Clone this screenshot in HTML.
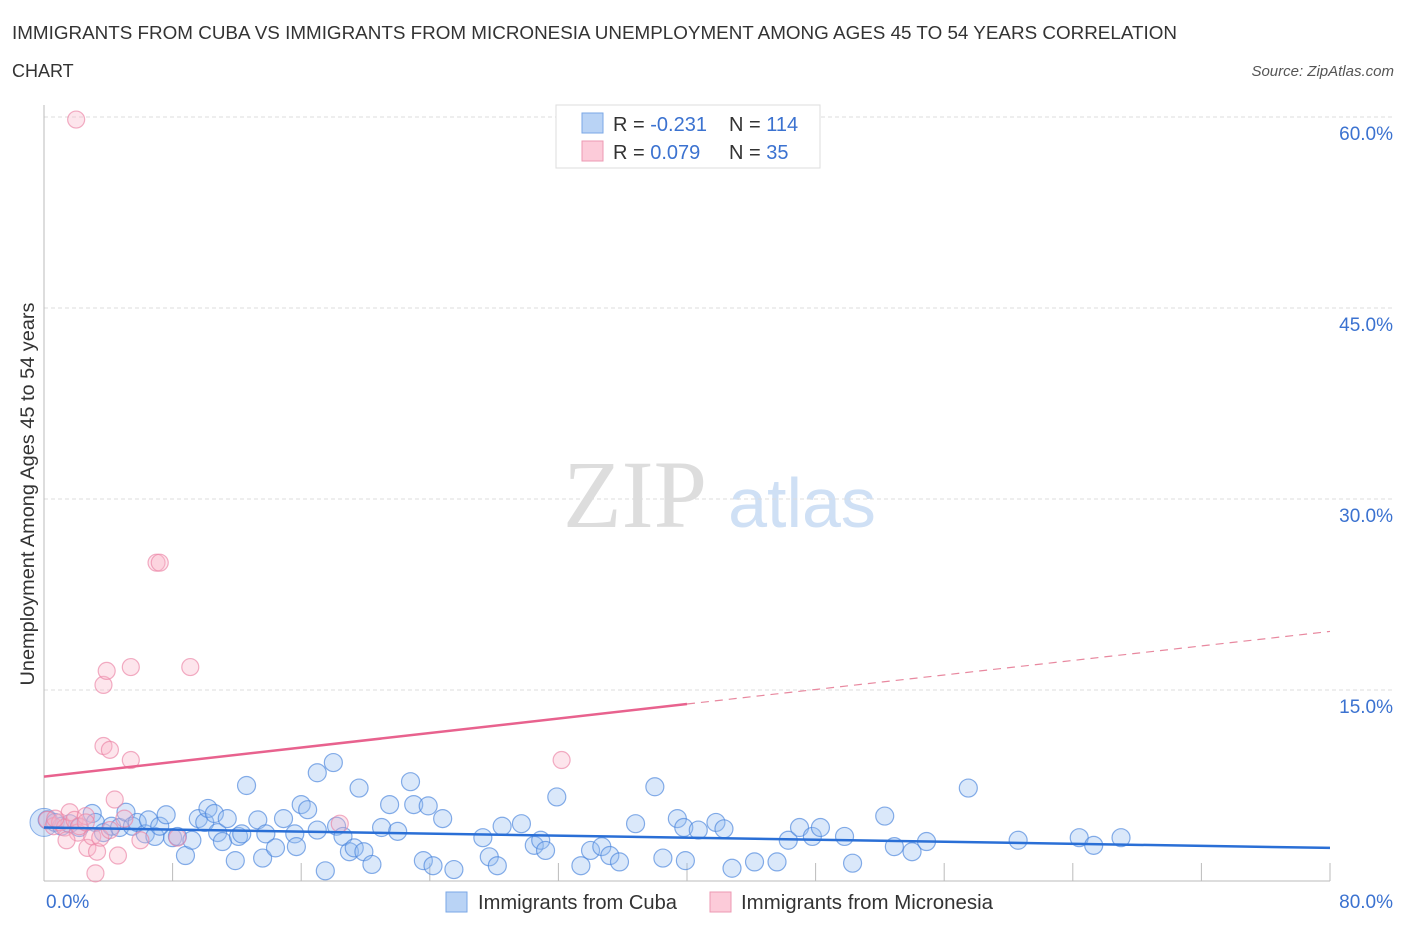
<!DOCTYPE html>
<html><head><meta charset="utf-8"><style>
body{margin:0;background:#fff;font-family:"Liberation Sans",sans-serif;}
#c{position:absolute;left:0;top:0;}
</style></head><body>
<svg id="c" width="1406" height="930" xmlns="http://www.w3.org/2000/svg">
<text x="12" y="39" font-size="18" fill="#333" textLength="1165" lengthAdjust="spacingAndGlyphs">IMMIGRANTS FROM CUBA VS IMMIGRANTS FROM MICRONESIA UNEMPLOYMENT AMONG AGES 45 TO 54 YEARS CORRELATION</text>
<text x="12" y="77" font-size="18" fill="#333">CHART</text>
<text x="1394" y="76" font-size="15" fill="#555" font-style="italic" text-anchor="end">Source: ZipAtlas.com</text>
<text x="635" y="527" font-size="96" fill="#ddd" font-family="Liberation Serif,serif" text-anchor="middle">ZIP</text>
<text x="802" y="527" font-size="70" fill="#cfe0f5" text-anchor="middle">atlas</text>
<text transform="translate(34,494) rotate(-90)" font-size="19" fill="#333" text-anchor="middle" textLength="383" lengthAdjust="spacingAndGlyphs">Unemployment Among Ages 45 to 54 years</text>
<g id="grid"></g><g id="marks"></g>
<g>
<rect x="556" y="105" width="264" height="63" fill="#fff" stroke="#ddd"/>
<rect x="582" y="113" width="21" height="20" fill="#b9d3f5" stroke="#7aa7e6"/>
<rect x="582" y="141" width="21" height="20" fill="#fccbd9" stroke="#ec9ab3"/>
<text x="613" y="131" font-size="20" fill="#333">R = <tspan fill="#3b72d0">-0.231</tspan></text>
<text x="729" y="131" font-size="20" fill="#333">N = <tspan fill="#3b72d0">114</tspan></text>
<text x="613" y="159" font-size="20" fill="#333">R = <tspan fill="#3b72d0"> 0.079</tspan></text>
<text x="729" y="159" font-size="20" fill="#333">N = <tspan fill="#3b72d0"> 35</tspan></text>
</g>
<g>
<rect x="446" y="892" width="21" height="20" fill="#b9d3f5" stroke="#7aa7e6"/>
<text x="478" y="909" font-size="20" fill="#333" textLength="199" lengthAdjust="spacingAndGlyphs">Immigrants from Cuba</text>
<rect x="710" y="892" width="21" height="20" fill="#fccbd9" stroke="#ec9ab3"/>
<text x="741" y="909" font-size="20" fill="#333" textLength="252" lengthAdjust="spacingAndGlyphs">Immigrants from Micronesia</text>
</g>
</svg>
<script>
const yTicks=[15,30,45,60];
const yTickLabels=["15.0%","30.0%","45.0%","60.0%"];
const xEnds=["0.0%","80.0%"];
const cubaX=[0.2,0.7,1.1,1.6,2.2,3.0,3.2,3.7,4.2,4.7,5.1,5.5,5.8,6.3,6.5,6.9,7.2,7.6,8.0,8.3,8.8,9.2,9.6,10.0,10.2,10.6,10.8,11.1,11.4,11.9,12.1,12.3,12.6,13.3,13.6,13.8,14.4,14.9,15.6,15.7,16.0,16.4,17.0,17.0,18.0,19.6,17.5,18.2,18.6,19.0,19.3,19.9,20.4,21.0,21.5,22.0,22.8,23.0,23.9,23.6,24.2,24.8,25.5,27.3,27.7,28.2,28.5,29.7,30.5,30.9,31.2,31.9,33.4,34.0,34.7,35.2,35.8,36.8,38.0,38.5,39.4,39.8,39.9,40.7,41.8,42.3,42.8,44.2,45.6,46.3,47.0,47.8,48.3,49.8,50.3,52.3,52.9,54.0,54.9,57.5,60.6,64.4,65.3,67.0];
const cubaY=[4.8,4.6,4.3,4.5,4.2,5.3,4.6,3.8,4.3,4.2,5.4,4.3,4.6,3.7,4.8,3.5,4.3,5.2,3.4,3.5,2.0,3.2,4.9,4.6,5.7,5.3,3.8,3.1,4.9,1.6,3.5,3.7,7.5,4.8,1.8,3.7,2.6,4.9,3.7,2.7,6.0,5.6,4.0,8.5,9.3,7.3,0.8,4.3,3.5,2.3,2.6,2.3,1.3,4.2,6.0,3.9,7.8,6.0,5.9,1.6,1.2,4.9,0.9,3.4,1.9,1.2,4.3,4.5,2.8,3.2,2.4,6.6,1.2,2.4,2.7,2.0,1.5,4.5,7.4,1.8,4.9,4.2,1.6,4.0,4.6,4.1,1.0,1.5,1.5,3.2,4.2,3.5,4.2,3.5,1.4,5.1,2.7,2.3,3.1,7.3,3.2,3.4,2.8,3.4];
const micX=[0.2,0.6,1.0,1.3,1.6,1.9,2.1,2.2,2.6,2.7,3.0,3.3,3.5,3.2,3.7,3.9,3.7,4.1,4.4,4.6,5.0,5.4,5.4,6.0,7.0,7.2,8.3,9.1,18.4,32.2,2.0,0.7,2.6,4.1,1.4];
const micY=[4.8,4.3,4.6,4.2,5.4,4.8,3.8,4.3,5.1,2.6,3.5,2.3,3.4,0.6,15.4,16.5,10.6,10.3,6.4,2.0,4.9,16.8,9.5,3.2,25.0,25.0,3.4,16.8,4.5,9.5,59.8,4.9,4.6,4.0,3.2];
const cubaTrend=[4.2,2.6];
const micTrend=[8.2,19.6];
const X0=44,X1=1330,Y0=881,YT=117;
const sx=v=>X0+(v/80)*(X1-X0);
const sy=v=>Y0-(v/60)*(Y0-YT);
const NS="http://www.w3.org/2000/svg";
function mk(t,a,p){const e=document.createElementNS(NS,t);for(const k in a)e.setAttribute(k,a[k]);p.appendChild(e);return e;}
const g=document.getElementById('grid'),m=document.getElementById('marks');
yTicks.forEach((v,i)=>{
 const l=mk('line',{x1:X0,x2:1392,y1:sy(v),y2:sy(v),stroke:'#ddd','stroke-dasharray':'4,3'},g);
 
 
 const t=mk('text',{x:1393,y:sy(v)+23,'font-size':19,fill:'#3b72d0','text-anchor':'end'},g);
 t.textContent=yTickLabels[i];
 
 
});
const ax=mk('line',{x1:X0,x2:X0,y1:105,y2:Y0,stroke:'#bbb'},g);


const bx=mk('line',{x1:X0,x2:X1,y1:Y0,y2:Y0,stroke:'#bbb'},g);


for(let i=1;i<=10;i++){const t=mk('line',{x1:sx(i*8),x2:sx(i*8),y1:Y0,y2:Y0-18,stroke:'#bbb'},g);
 
 }
[[0,'start',46],[80,'end',1393]].forEach((d,i)=>{const t=mk('text',{x:d[2],y:908,'font-size':19,fill:'#3b72d0','text-anchor':d[1]},g);t.textContent=xEnds[i];
 
 });
const big=mk('circle',{cx:sx(0),cy:sy(4.6),r:14,fill:'rgba(150,190,240,0.4)',stroke:'rgba(70,130,220,0.6)'},m);


cubaX.forEach((x,i)=>{const c=mk('circle',{cx:sx(x),cy:sy(cubaY[i]),r:9,fill:'rgba(150,190,240,0.35)',stroke:'rgba(70,130,220,0.65)','stroke-width':1.2},m);
 
 });
micX.forEach((x,i)=>{const c=mk('circle',{cx:sx(x),cy:sy(micY[i]),r:8.5,fill:'rgba(250,180,200,0.35)',stroke:'rgba(235,130,165,0.65)','stroke-width':1.2},m);
 
 });
const ct=mk('line',{x1:sx(0),y1:sy(cubaTrend[0]),x2:sx(80),y2:sy(cubaTrend[1]),stroke:'#2a6fd6','stroke-width':2.5},m);


const mid=micTrend[0]+(micTrend[1]-micTrend[0])*0.5;
const pt=mk('line',{x1:sx(0),y1:sy(micTrend[0]),x2:sx(40),y2:sy(mid),stroke:'#e8628e','stroke-width':2.5},m);


const pd=mk('line',{x1:sx(40),y1:sy(mid),x2:sx(80),y2:sy(micTrend[1]),stroke:'#e8889f','stroke-width':1.2,'stroke-dasharray':'8,6'},m);


</script>
</body></html>
